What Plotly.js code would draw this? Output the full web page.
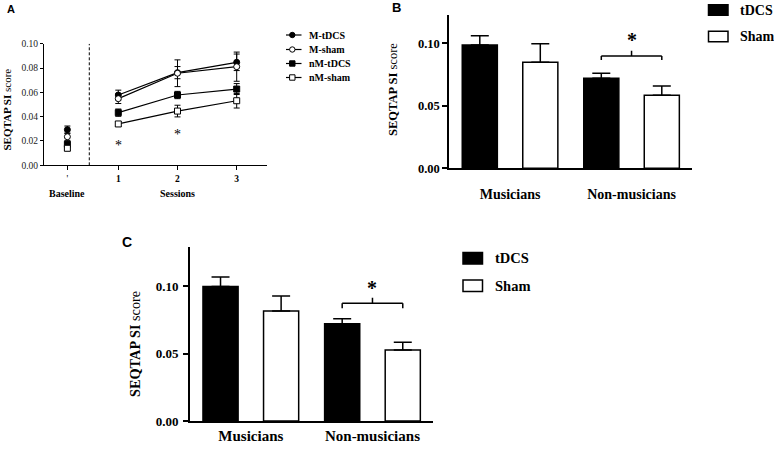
<!DOCTYPE html>
<html><head><meta charset="utf-8">
<script src="https://cdn.plot.ly/plotly-3.0.1.min.js"></script>
<style>html,body{margin:0;padding:0;background:#fff}</style>
</head><body><div id="chart" style="width:774px;height:451px"></div>
<script>
// ---------- Panel A data ----------
const sessions = [1, 2, 3];
const sessionLabels = ['1', '2', '3'];
const baselineX = 0.14;
const seriesNames = ['M-tDCS', 'M-sham', 'nM-tDCS', 'nM-sham'];
const baselineMean = [0.0293, 0.0235, 0.0173, 0.0140];
const baselineErr  = [0.0030, 0.0030, 0.0020, 0.0020];
const mTdcsMean  = [0.0578, 0.0762, 0.0847];
const mTdcsErr   = [0.0040, 0.0050, 0.0068];
const mShamMean  = [0.0548, 0.0757, 0.0811];
const mShamErr   = [0.0040, 0.0110, 0.0120];
const nmTdcsMean = [0.0433, 0.0578, 0.0627];
const nmTdcsErr  = [0.0030, 0.0030, 0.0045];
const nmShamMean = [0.0340, 0.0446, 0.0531];
const nmShamErr  = [0.0020, 0.0048, 0.0060];
const sigSessionsA = [1, 2];
const sigLevelsA = [0.0186, 0.028];

// ---------- Panel B data ----------
const groups = ['Musicians', 'Non-musicians'];
const bTdcs    = [0.0987, 0.0720];
const bTdcsErr = [0.0073, 0.0040];
const bSham    = [0.0848, 0.0584];
const bShamErr = [0.0149, 0.0074];

// ---------- Panel C data ----------
const cTdcs    = [0.1000, 0.0723];
const cTdcsErr = [0.0070, 0.0037];
const cSham    = [0.0817, 0.0527];
const cShamErr = [0.0112, 0.0058];

const W = 774, H = 451;
const px = v => v / W;
const py = v => 1 - v / H;
const SERIF = 'Liberation Serif, Times New Roman, serif';
const SANS = 'Liberation Sans, Arial, sans-serif';

const meansA = [mTdcsMean, mShamMean, nmTdcsMean, nmShamMean];
const errsA = [mTdcsErr, mShamErr, nmTdcsErr, nmShamErr];
const symA = ['circle', 'circle', 'square', 'square'];
const fillA = ['black', 'white', 'black', 'white'];

const traces = [];
for (let i = 0; i < 4; i++) {
  traces.push({
    type: 'scatter', mode: 'lines+markers', name: seriesNames[i],
    x: sessions, y: meansA[i], xaxis: 'x', yaxis: 'y',
    line: {color: 'black', width: 1.2},
    marker: {symbol: symA[i], size: 6, color: fillA[i], line: {color: 'black', width: 1}},
    error_y: {type: 'data', array: errsA[i], color: 'black', thickness: 1, width: 3},
    showlegend: false, cliponaxis: false
  });
  traces.push({
    type: 'scatter', mode: 'markers', name: seriesNames[i] + ' baseline',
    x: [baselineX], y: [baselineMean[i]], xaxis: 'x', yaxis: 'y',
    marker: {symbol: symA[i], size: 6, color: fillA[i], line: {color: 'black', width: 1}},
    error_y: {type: 'data', array: [baselineErr[i]], color: 'black', thickness: 1, width: 3},
    showlegend: false, cliponaxis: false
  });
}

function barTrace(name, y, err, color, xa, ya) {
  return {
    type: 'bar', name: name, x: groups, y: y, xaxis: xa, yaxis: ya,
    marker: {color: color, line: {color: 'black', width: 1.5}},
    error_y: {type: 'data', symmetric: false, array: err, arrayminus: err.map(() => 0),
              color: 'black', thickness: 1.5, width: 9},
    showlegend: false
  };
}
traces.push(barTrace('tDCS', bTdcs, bTdcsErr, 'black', 'x2', 'y2'));
traces.push(barTrace('Sham', bSham, bShamErr, 'white', 'x2', 'y2'));
traces.push(barTrace('tDCS', cTdcs, cTdcsErr, 'black', 'x3', 'y3'));
traces.push(barTrace('Sham', cSham, cShamErr, 'white', 'x3', 'y3'));

const shapes = [];
const annotations = [];
function ann(o) {
  annotations.push(Object.assign({showarrow: false, xanchor: 'center', yanchor: 'middle'}, o));
}

// Panel A dashed separator
shapes.push({type: 'line', xref: 'x', yref: 'y', x0: 0.51, x1: 0.51, y0: 0, y1: 0.1,
             line: {color: 'black', width: 1, dash: '3px,2px'}});

// Panel A legend
const legRowsA = [35, 49.5, 63.5, 77.5];
for (let i = 0; i < 4; i++) {
  const yy = legRowsA[i];
  shapes.push({type: 'line', xref: 'paper', yref: 'paper', x0: px(286), x1: px(301.5), y0: py(yy), y1: py(yy),
               line: {color: 'black', width: 1.2}});
  const r = 2.7;
  shapes.push({type: symA[i] === 'circle' ? 'circle' : 'rect', xref: 'paper', yref: 'paper',
               x0: px(292.3 - r), x1: px(292.3 + r), y0: py(yy + r), y1: py(yy - r),
               fillcolor: fillA[i], line: {color: 'black', width: 1}});
  ann({xref: 'paper', yref: 'paper', x: px(306.5), y: py(yy), xanchor: 'left',
       text: '<b>' + seriesNames[i] + '</b>', font: {family: SERIF, size: 10, color: 'black'}});
}

// Panel A asterisks
for (let i = 0; i < sigSessionsA.length; i++) {
  ann({xref: 'x', yref: 'y', x: sigSessionsA[i], y: sigLevelsA[i], text: '*',
       yshift: -3, font: {family: SERIF, size: 14, color: 'black'}});
}
// Panel A x labels
ann({xref: 'x', yref: 'paper', x: baselineX, y: py(193), text: '<b>Baseline</b>',
     font: {family: SERIF, size: 10, color: 'black'}});
ann({xref: 'x', yref: 'paper', x: 2, y: py(193), text: '<b>Sessions</b>',
     font: {family: SERIF, size: 10, color: 'black'}});

// Y titles
ann({xref: 'paper', yref: 'paper', x: px(6.5), y: py(110), textangle: -90,
     text: '<b>SEQTAP SI</b> score', font: {family: SERIF, size: 11, color: 'black'}});
ann({xref: 'paper', yref: 'paper', x: px(393), y: py(90), textangle: -90,
     text: '<b>SEQTAP SI</b> score', font: {family: SERIF, size: 12.5, color: 'black'}});
ann({xref: 'paper', yref: 'paper', x: px(135), y: py(344), textangle: -90,
     text: '<b>SEQTAP SI</b> score', font: {family: SERIF, size: 14.3, color: 'black'}});

// Panel letters
ann({xref: 'paper', yref: 'paper', x: px(10.5), y: py(9), text: '<b>A</b>',
     font: {family: SANS, size: 11, color: 'black'}});
ann({xref: 'paper', yref: 'paper', x: px(396.5), y: py(8), text: '<b>B</b>',
     font: {family: SANS, size: 13, color: 'black'}});
ann({xref: 'paper', yref: 'paper', x: px(127), y: py(241.7), text: '<b>C</b>',
     font: {family: SANS, size: 14, color: 'black'}});

// Bar legends
function barLegend(x0, rows, size, fs) {
  const names = ['tDCS', 'Sham'];
  const fills = ['black', 'white'];
  for (let i = 0; i < 2; i++) {
    const yc = rows[i];
    shapes.push({type: 'rect', xref: 'paper', yref: 'paper', x0: px(x0), x1: px(x0 + size[0]),
                 y0: py(yc + size[1] / 2), y1: py(yc - size[1] / 2), fillcolor: fills[i],
                 line: {color: 'black', width: 1.5}});
    ann({xref: 'paper', yref: 'paper', x: px(x0 + size[0] + 10), y: py(yc), xanchor: 'left',
         text: '<b>' + names[i] + '</b>', font: {family: SERIF, size: fs, color: 'black'}});
  }
}
barLegend(708.5, [10, 36.5], [19.5, 10.5], 14);
barLegend(463, [258.3, 285.8], [19.5, 11.5], 14.5);

// Brackets
function bracket(xa, ya, yLine, yTick, yTop, yStar) {
  const st = {color: 'black', width: 1.5};
  shapes.push({type: 'line', xref: xa, yref: ya, x0: 0.751, x1: 1.249, y0: yLine, y1: yLine, line: st});
  shapes.push({type: 'line', xref: xa, yref: ya, x0: 0.751, x1: 0.751, y0: yTick, y1: yLine, line: st});
  shapes.push({type: 'line', xref: xa, yref: ya, x0: 1.249, x1: 1.249, y0: yTick, y1: yLine, line: st});
  shapes.push({type: 'line', xref: xa, yref: ya, x0: 1, x1: 1, y0: yLine, y1: yTop, line: st});
  ann({xref: xa, yref: ya, x: 1, y: yStar, text: '<b>*</b>', yshift: -3,
       font: {family: SERIF, size: 20, color: 'black'}});
}
bracket('x2', 'y2', 0.0898, 0.0867, 0.094, 0.105);
bracket('x3', 'y3', 0.0874, 0.0837, 0.0916, 0.101);

const bold = arr => arr.map(s => '<b>' + s + '</b>');

const layout = {
  width: W, height: H, autosize: false,
  margin: {l: 0, r: 0, t: 0, b: 0, pad: 0},
  paper_bgcolor: 'white', plot_bgcolor: 'white',
  showlegend: false,
  barmode: 'group', bargap: 0.004, bargroupgap: 0.42,
  font: {family: SERIF, color: 'black'},
  xaxis: {domain: [px(44), px(266.7)], range: [-0.255, 3.507], anchor: 'y',
          showline: true, linecolor: 'black', linewidth: 1, ticks: 'outside', ticklen: 4, tickwidth: 1,
          tickcolor: 'black', tickvals: [baselineX].concat(sessions), ticktext: ["'"].concat(bold(sessionLabels)),
          tickfont: {family: SERIF, size: 9.5, color: 'black'}, showgrid: false, zeroline: false, fixedrange: true},
  yaxis: {domain: [py(165.3), py(43.7)], range: [0, 0.1], anchor: 'x',
          showline: true, linecolor: 'black', linewidth: 1, ticks: 'outside', ticklen: 3, tickwidth: 1,
          tickcolor: 'black', dtick: 0.02, tick0: 0, tickformat: '.2f',
          tickfont: {family: SERIF, size: 9.5, color: '#222'}, showgrid: false, zeroline: false},
  xaxis2: {domain: [px(449.3), px(692.3)], type: 'category', range: [-0.5, 1.5], anchor: 'y2',
           showline: true, linecolor: 'black', linewidth: 2, ticks: '', ticktext: bold(groups), tickvals: groups,
           ticklabelstandoff: 12,
           tickfont: {family: SERIF, size: 14, color: 'black'}, showgrid: false, zeroline: false},
  yaxis2: {domain: [py(168.3), py(15)], range: [0, 0.1226], anchor: 'x2',
           showline: true, linecolor: 'black', linewidth: 2, ticks: 'outside', ticklen: 5, tickwidth: 2,
           tickcolor: 'black', tickvals: [0, 0.05, 0.1], ticktext: bold(['0.00', '0.05', '0.10']),
           tickfont: {family: SERIF, size: 12.5, color: 'black'}, showgrid: false, zeroline: false},
  xaxis3: {domain: [px(190), px(433.3)], type: 'category', range: [-0.5, 1.5], anchor: 'y3',
           showline: true, linecolor: 'black', linewidth: 2, ticks: '', ticktext: bold(groups), tickvals: groups,
           ticklabelstandoff: 0,
           tickfont: {family: SERIF, size: 15, color: 'black'}, showgrid: false, zeroline: false},
  yaxis3: {domain: [py(421), py(246.7)], range: [0, 0.1295], anchor: 'x3',
           showline: true, linecolor: 'black', linewidth: 2, ticks: 'outside', ticklen: 5, tickwidth: 2,
           tickcolor: 'black', tickvals: [0, 0.05, 0.1], ticktext: bold(['0.00', '0.05', '0.10']),
           ticklabelstandoff: 2,
           tickfont: {family: SERIF, size: 13, color: 'black'}, showgrid: false, zeroline: false},
  shapes: shapes,
  annotations: annotations
};

Plotly.newPlot('chart', traces, layout, {staticPlot: true, displayModeBar: false});
</script>
</body></html>
